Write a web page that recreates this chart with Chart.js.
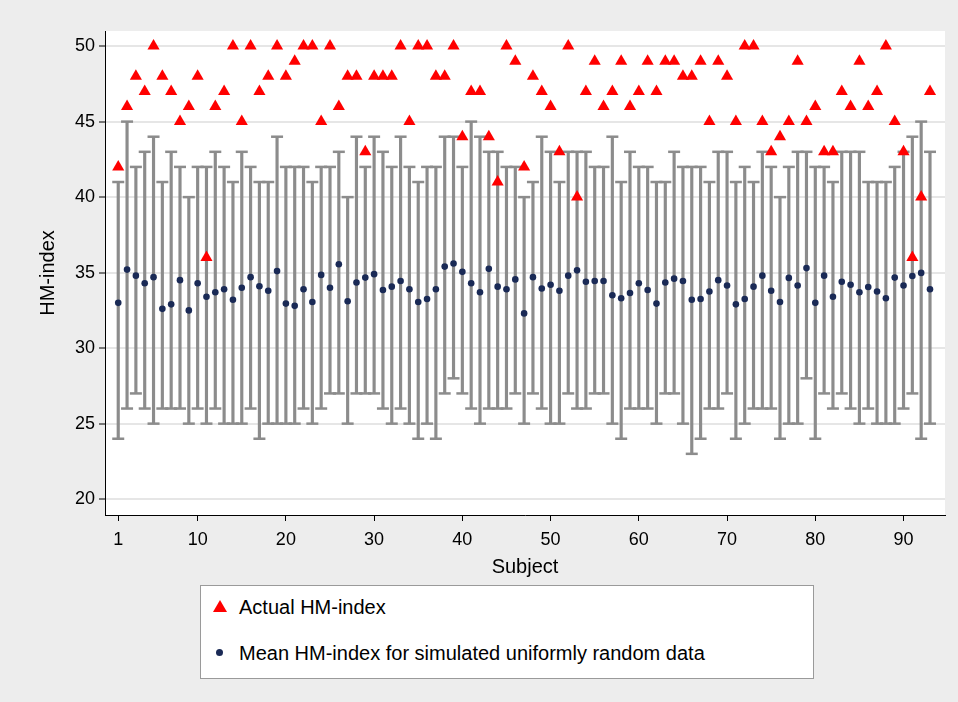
<!DOCTYPE html>
<html>
<head>
<meta charset="utf-8">
<script src="https://cdn.jsdelivr.net/npm/chart.js@4.4.1/dist/chart.umd.min.js"></script>
<style>
  body { margin: 0; background: #ededed; }
  #wrap { position: relative; width: 958px; height: 702px; }
  #legend {
    position: absolute; left: 200px; top: 585px; width: 614px; height: 94px;
    background: #fff; border: 1px solid #9a9a9a; box-sizing: border-box;
    font-family: "Liberation Sans", Arial, sans-serif; font-size: 20px; color: #000;
  }
  .row { position: absolute; left: 10px; height: 24px; line-height: 24px; }
  .row span { position: absolute; left: 28px; white-space: nowrap; }
  .tri { position: absolute; left: 2px; top: 5px; width: 0; height: 0;
    border-left: 7px solid transparent; border-right: 7px solid transparent; border-bottom: 12px solid #ff0000; }
  .dot { position: absolute; left: 5px; top: 8px; width: 7px; height: 7px; border-radius: 50%; background: #1a2a56; }
</style>
</head>
<body>
<div id="wrap">
  <canvas id="grafico" width="958" height="702"></canvas>
  <div id="legend">
    <div class="row" style="top:9px"><div class="tri"></div><span>Actual HM-index</span></div>
    <div class="row" style="top:55px"><div class="dot"></div><span>Mean HM-index for simulated uniformly random data</span></div>
  </div>
</div>
<script>
// valores, sujeto 1..93
const sujetos = Array.from({ length: 93 }, (_, i) => i + 1);

const actual = [42, 46, 48, 47, 50, 48, 47, 45, 46, 48, 36, 46, 47, 50, 45, 50,
  47, 48, 50, 48, 49, 50, 50, 45, 50, 46, 48, 48, 43, 48, 48, 48,
  50, 45, 50, 50, 48, 48, 50, 44, 47, 47, 44, 41, 50, 49, 42,
  48, 47, 46, 43, 50, 40, 47, 49, 46, 47, 49, 46, 47, 49, 47, 49,
  49, 48, 48, 49, 45, 49, 48, 45, 50, 50, 45, 43, 44, 45, 49, 45,
  46, 43, 43, 47, 46, 49, 46, 47, 50, 45, 43, 36, 40, 47];

const media = [33.0, 35.2, 34.8, 34.3, 34.7, 32.6, 32.9, 34.5, 32.5, 34.3, 33.4, 33.7, 33.9, 33.2, 34.0, 34.7,
  34.1, 33.8, 35.1, 32.95, 32.8, 33.9, 33.05, 34.85, 34.0, 35.55, 33.1, 34.35, 34.67, 34.9, 33.85, 34.07,
  34.45, 33.9, 33.05, 33.25, 33.9, 35.4, 35.6, 35.05, 34.3, 33.7, 35.25, 34.07, 33.9, 34.55, 32.3,
  34.7, 33.95, 34.2, 33.8, 34.8, 35.15, 34.4, 34.45, 34.45, 33.5, 33.3, 33.65, 34.3, 33.85, 32.95, 34.35,
  34.6, 34.45, 33.2, 33.25, 33.75, 34.5, 34.15, 32.9, 33.25, 34.07, 34.8, 33.8, 33.05, 34.65, 34.15, 35.3,
  33.0, 34.8, 33.4, 34.4, 34.2, 33.7, 34.05, 33.75, 33.3, 34.67, 34.15, 34.78, 34.98, 33.9];

const maximo = [41, 45, 42, 43, 44, 41, 43, 42, 40, 42, 42, 43, 42, 41, 43, 42,
  41, 41, 44, 42, 42, 42, 41, 42, 42, 43, 40, 44, 42, 44, 43, 42,
  44, 42, 41, 42, 42, 44, 44, 42, 45, 44, 43, 43, 42, 42, 40,
  41, 44, 43, 41, 43, 43, 43, 42, 42, 44, 41, 43, 42, 42, 41, 41,
  43, 42, 42, 42, 41, 43, 43, 41, 42, 41, 43, 42, 40, 42, 43, 43,
  42, 42, 41, 43, 43, 43, 41, 41, 41, 42, 43, 44, 45, 43];

const minimo = [24, 26, 27, 26, 25, 26, 26, 26, 25, 26, 25, 26, 25, 25, 25, 26,
  24, 25, 25, 25, 25, 26, 25, 26, 27, 27, 25, 27, 27, 27, 26, 25,
  26, 25, 24, 25, 24, 27, 28, 27, 26, 25, 26, 26, 26, 27, 25,
  27, 26, 25, 25, 27, 26, 26, 27, 27, 25, 24, 26, 26, 26, 25, 27,
  27, 25, 23, 24, 26, 26, 27, 24, 25, 26, 26, 26, 24, 25, 25, 28,
  24, 27, 26, 27, 26, 25, 26, 25, 25, 25, 26, 27, 24, 25];

const ticksX = [1, 10, 20, 30, 40, 50, 60, 70, 80, 90];
const ticksY = [20, 25, 30, 35, 40, 45, 50];

const fuente = "'Liberation Sans', Arial, sans-serif";
const gris = '#8c8c8c';

const fondo = {
  id: 'fondo',
  beforeDraw(chart) {
    const { ctx, chartArea: a } = chart;
    ctx.save();
    ctx.fillStyle = '#ededed';
    ctx.fillRect(0, 0, chart.width, chart.height);
    ctx.fillStyle = '#ffffff';
    ctx.fillRect(a.left, a.top, a.right - a.left, a.bottom - a.top);
    ctx.restore();
  }
};

new Chart(document.getElementById('grafico'), {
  type: 'bar',
  data: {
    datasets: [
      {
        type: 'scatter', label: 'Actual HM-index', order: 0,
        data: sujetos.map((s, i) => ({ x: s, y: actual[i] })),
        pointStyle: 'triangle', pointRadius: 7, backgroundColor: '#ff0000', borderColor: '#ff0000', borderWidth: 0
      },
      {
        type: 'scatter', label: 'Mean', order: 1,
        data: sujetos.map((s, i) => ({ x: s, y: media[i] })),
        pointRadius: 3.3, backgroundColor: '#1a2a56', borderColor: '#1a2a56', borderWidth: 0
      },
      {
        type: 'scatter', label: 'cap hi', order: 2,
        data: sujetos.map((s, i) => ({ x: s, y: maximo[i] })),
        pointStyle: 'line', pointRadius: 6, borderColor: gris, borderWidth: 2.5
      },
      {
        type: 'scatter', label: 'cap lo', order: 2,
        data: sujetos.map((s, i) => ({ x: s, y: minimo[i] })),
        pointStyle: 'line', pointRadius: 6, borderColor: gris, borderWidth: 2.5
      },
      {
        type: 'bar', label: 'rango', order: 3,
        data: sujetos.map((s, i) => ({ x: s, y: [minimo[i], maximo[i]] })),
        backgroundColor: gris, barThickness: 2.5, borderWidth: 0
      }
    ]
  },
  options: {
    responsive: false,
    animation: false,
    layout: { padding: { top: 31, right: 13, bottom: 119, left: 0 } },
    plugins: { legend: { display: false }, tooltip: { enabled: false } },
    scales: {
      x: {
        type: 'linear', min: -0.5, max: 94.7, offset: false,
        afterBuildTicks: (s) => { s.ticks = ticksX.map(v => ({ value: v })); },
        afterFit: (s) => { s.height = 68; },
        grid: { offset: false, drawOnChartArea: false, tickLength: 6, tickColor: '#000', tickWidth: 1 },
        border: { display: true, color: '#000', width: 1 },
        ticks: { color: '#000', font: { family: fuente, size: 18 }, padding: 8, maxRotation: 0 },
        title: { display: true, text: 'Subject', color: '#000', font: { family: fuente, size: 20 }, padding: { top: 2, bottom: 4 } }
      },
      y: {
        type: 'linear', min: 18.95, max: 51,
        afterBuildTicks: (s) => { s.ticks = ticksY.map(v => ({ value: v })); },
        afterFit: (s) => { s.width = 105; },
        grid: { color: '#e6e6e6', lineWidth: 2, tickLength: 6, tickColor: '#000', tickWidth: 1 },
        border: { display: true, color: '#000', width: 1 },
        ticks: { color: '#000', font: { family: fuente, size: 18 }, padding: 4 },
        title: { display: true, text: 'HM-index', color: '#000', font: { family: fuente, size: 20 }, padding: { top: 36 } }
      }
    }
  },
  plugins: [fondo]
});
</script>
</body>
</html>
